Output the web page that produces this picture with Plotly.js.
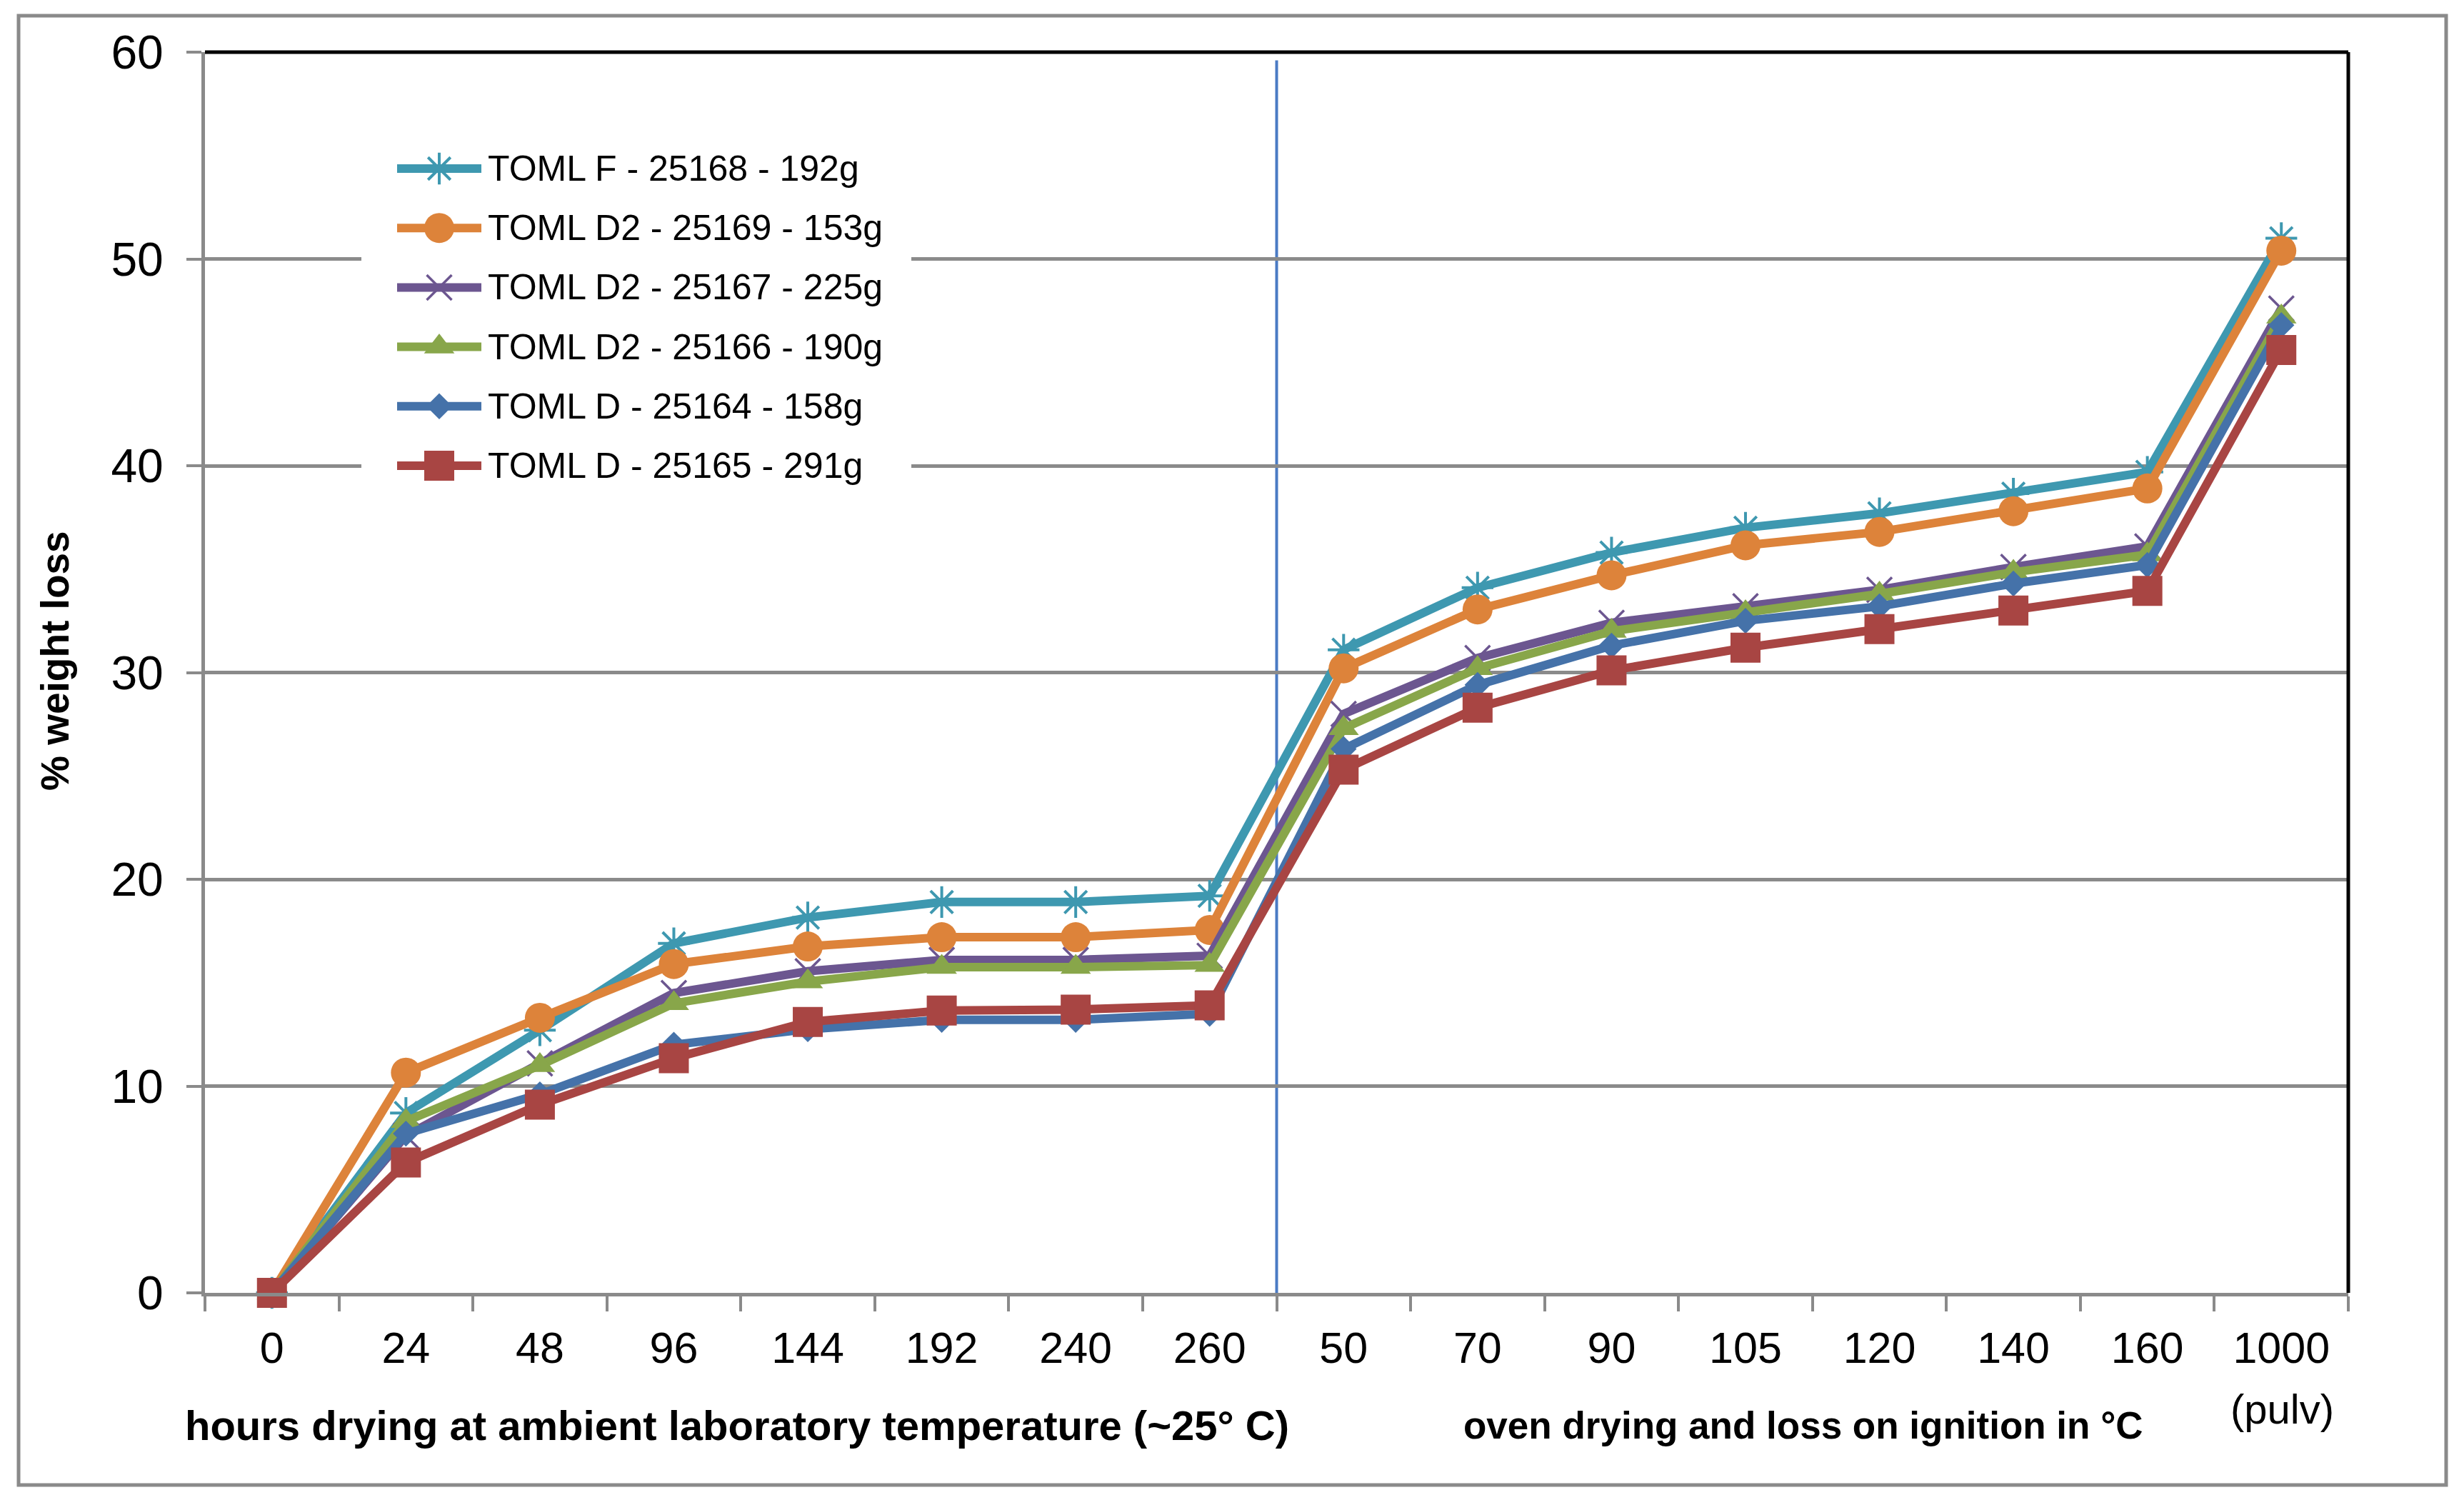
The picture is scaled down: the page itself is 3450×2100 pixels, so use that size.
<!DOCTYPE html>
<html>
<head>
<meta charset="utf-8">
<script src="https://cdn.plot.ly/plotly-3.0.1.min.js"></script>
<style>
html,body{margin:0;padding:0;background:#fff;}
#chart{width:3450px;height:2100px;}
</style>
</head>
<body>
<div id="chart"></div>
<script>
// ---------- data ----------
const categories = ['0','24','48','96','144','192','240','260','50','70','90','105','120','140','160','1000'];

const seriesNames = [
  'TOML F - 25168 - 192g',
  'TOML D2 - 25169 - 153g',
  'TOML D2 - 25167 - 225g',
  'TOML D2 - 25166 - 190g',
  'TOML D - 25164 - 158g',
  'TOML D - 25165 - 291g'
];

const tomlF_25168  = [0, 8.7, 12.7, 16.9, 18.15, 18.9, 18.9, 19.2, 31.1, 34.1, 35.8, 37.0, 37.7, 38.65, 39.7, 51.0];
const tomlD2_25169 = [0, 10.65, 13.3, 15.9, 16.75, 17.2, 17.2, 17.55, 30.2, 33.05, 34.7, 36.15, 36.8, 37.8, 38.9, 50.4];
const tomlD2_25167 = [0, 7.6, 11.1, 14.5, 15.55, 16.1, 16.1, 16.3, 28.0, 30.7, 32.4, 33.2, 34.0, 35.1, 36.1, 47.6];
const tomlD2_25166 = [0, 8.3, 11.0, 14.0, 15.05, 15.75, 15.75, 15.85, 27.3, 30.2, 32.0, 32.9, 33.8, 34.85, 35.7, 47.2];
const tomlD_25164  = [0, 7.7, 9.6, 12.0, 12.75, 13.2, 13.2, 13.5, 26.3, 29.4, 31.3, 32.5, 33.2, 34.3, 35.2, 46.8];
const tomlD_25165  = [0, 6.3, 9.1, 11.35, 13.1, 13.65, 13.7, 13.9, 25.3, 28.3, 30.1, 31.2, 32.1, 33.0, 33.95, 45.6];

const yTickVals = [0, 10, 20, 30, 40, 50, 60];

const xTitleLeft  = '<b>hours drying at ambient laboratory temperature (~25° C)</b>';
const xTitleRight = '<b>oven drying and loss on ignition in °C</b>';
const xNote = '(pulv)';
const yTitle = '<b>% weight loss</b>';

// ---------- styles ----------
const seriesValues = [tomlF_25168, tomlD2_25169, tomlD2_25167, tomlD2_25166, tomlD_25164, tomlD_25165];
const colors  = ['#3E98B0', '#DD833A', '#6C5690', '#88A64A', '#4572A9', '#A84543'];
const symbols = ['asterisk-open', 'circle', 'x-thin-open', 'triangle-up', 'diamond', 'square'];
const msizes  = [37, 42, 35, 37, 28, 42];
const mlinew  = [4, 0, 3.5, 0, 0, 0];
const LINE_W = 12;

const FONT = 'Liberation Sans, Arial, sans-serif';

// plot-area geometry (pixels)
const W = 3450, H = 2100;
const L = 287, R = 3288, T = 73, B = 1810;

const traces = [];
seriesValues.forEach((vals, i) => {
  traces.push({
    type: 'scatter', mode: 'lines+markers',
    x: categories, y: vals, name: seriesNames[i],
    xaxis: 'x', yaxis: 'y',
    line: {color: colors[i], width: LINE_W},
    marker: {symbol: symbols[i], size: msizes[i], color: colors[i], opacity: 1,
             line: {color: colors[i], width: mlinew[i]}},
    showlegend: false, cliponaxis: false
  });
});

// custom legend on an overlay pixel axis
const leg = {x0: 556, x1: 674, textX: 681, top: 236, step: 83.2, boxX0: 506, boxX1: 1276, boxY0: 190, boxY1: 700};
const annotations = [];
seriesNames.forEach((nm, i) => {
  const yy = leg.top + i * leg.step;
  traces.push({
    type: 'scatter', mode: 'lines+markers',
    x: [leg.x0, (leg.x0 + leg.x1) / 2, leg.x1], y: [yy, yy, yy],
    xaxis: 'x2', yaxis: 'y2', hoverinfo: 'skip', showlegend: false,
    line: {color: colors[i], width: LINE_W},
    marker: {symbol: symbols[i], size: [0, msizes[i], 0], color: colors[i], opacity: 1,
             line: {color: colors[i], width: mlinew[i]}}
  });
  annotations.push({
    xref: 'x2', yref: 'y2', x: leg.textX, y: yy, xanchor: 'left', yanchor: 'middle',
    text: nm, showarrow: false, font: {family: FONT, size: 50, color: '#000'}
  });
});

const px2paperX = v => (v - L) / (R - L);
const px2paperY = v => (B - v) / (B - T);

annotations.push(
  {xref: 'paper', yref: 'paper', x: px2paperX(1032), y: px2paperY(1995), xanchor: 'center', yanchor: 'middle',
   text: xTitleLeft, showarrow: false, font: {family: FONT, size: 58, color: '#000'}},
  {xref: 'paper', yref: 'paper', x: px2paperX(2525), y: px2paperY(1995), xanchor: 'center', yanchor: 'middle',
   text: xTitleRight, showarrow: false, font: {family: FONT, size: 53, color: '#000'}},
  {xref: 'paper', yref: 'paper', x: px2paperX(3195), y: px2paperY(1973), xanchor: 'center', yanchor: 'middle',
   text: xNote, showarrow: false, font: {family: FONT, size: 58, color: '#000'}},
  {xref: 'paper', yref: 'paper', x: px2paperX(77), y: px2paperY(925), xanchor: 'center', yanchor: 'middle',
   text: yTitle, textangle: -90, showarrow: false, font: {family: FONT, size: 55, color: '#000'}}
);

const shapes = [
  // legend white box (covers gridlines)
  {type: 'rect', xref: 'x2', yref: 'y2', x0: leg.boxX0, x1: leg.boxX1, y0: leg.boxY0, y1: leg.boxY1,
   fillcolor: '#ffffff', line: {width: 0}, layer: 'below'},
  // divider between the two experiment phases
  {type: 'line', xref: 'x', yref: 'y', x0: 7.5, x1: 7.5, y0: 0, y1: 59.6,
   line: {color: '#4A7BC4', width: 4}, layer: 'below'},
  // black top and right frame of the plot area
  {type: 'line', xref: 'paper', yref: 'paper', x0: 0, x1: 1, y0: 1, y1: 1, line: {color: '#000', width: 5}},
  {type: 'line', xref: 'paper', yref: 'paper', x0: 1, x1: 1, y0: 0, y1: 1, line: {color: '#000', width: 5}},
  // outer chart border
  {type: 'rect', xref: 'paper', yref: 'paper',
   x0: px2paperX(26), x1: px2paperX(3425), y0: px2paperY(2079), y1: px2paperY(22),
   line: {color: '#8A8A8A', width: 5}, fillcolor: 'rgba(0,0,0,0)'}
];

const layout = {
  width: W, height: H,
  margin: {l: L, r: W - R, t: T, b: H - B, pad: 0},
  paper_bgcolor: '#ffffff', plot_bgcolor: 'rgba(0,0,0,0)',
  showlegend: false,
  font: {family: FONT, color: '#000'},
  xaxis: {
    type: 'category', categoryorder: 'array', categoryarray: categories,
    range: [-0.5, categories.length - 0.5], fixedrange: true,
    showgrid: false, zeroline: false,
    showline: true, linecolor: '#8A8A8A', linewidth: 5,
    ticks: 'outside', tickson: 'boundaries', ticklen: 21, tickwidth: 4, tickcolor: '#8A8A8A',
    tickfont: {family: FONT, size: 61, color: '#000'}, ticklabelstandoff: 20
  },
  yaxis: {
    range: [0, 60], tickvals: yTickVals, fixedrange: true,
    showgrid: true, gridcolor: '#8A8A8A', gridwidth: 5, zeroline: false,
    showline: true, linecolor: '#8A8A8A', linewidth: 5,
    ticks: 'outside', ticklen: 21, tickwidth: 4, tickcolor: '#8A8A8A',
    tickfont: {family: FONT, size: 66, color: '#000'}, ticklabelstandoff: 19
  },
  xaxis2: {domain: [0, 1], range: [L, R], anchor: 'y2', visible: false, fixedrange: true},
  yaxis2: {domain: [0, 1], range: [B, T], anchor: 'x2', visible: false, fixedrange: true},
  shapes: shapes,
  annotations: annotations
};

Plotly.newPlot('chart', traces, layout, {displayModeBar: false, staticPlot: true});
</script>
</body>
</html>
